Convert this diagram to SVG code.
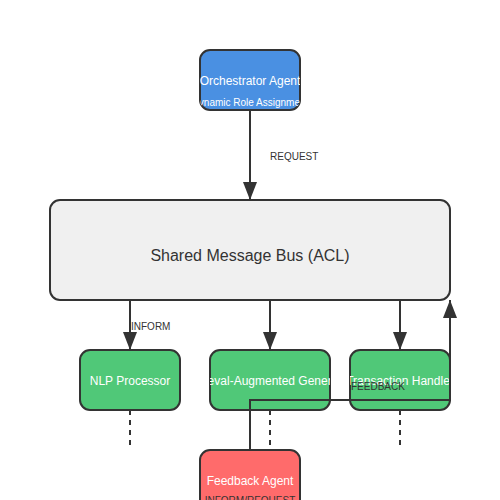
<svg xmlns="http://www.w3.org/2000/svg" width="500" height="500" viewBox="0 0 500 500">
<style>
.node{stroke:#333;stroke-width:2}
.t{font-family:"Liberation Sans",Arial,sans-serif;text-anchor:middle;dominant-baseline:central}
.w{fill:#fff;font-size:12px}
.s{fill:#fff;font-size:10px}
.lbl{font-family:"Liberation Sans",Arial,sans-serif;font-size:10px;fill:#333;dominant-baseline:central}
.ln{stroke:#333;stroke-width:2;fill:none}
.dash{stroke:#333;stroke-width:2;stroke-dasharray:5,5;fill:none}
</style>
<defs>
<marker id="arr" markerUnits="userSpaceOnUse" markerWidth="18" markerHeight="14" refX="18" refY="7" orient="auto">
<path d="M0,0 L18,7 L0,14 Z" fill="#333"/>
</marker>
<clipPath id="cOrch"><rect x="200" y="50" width="100" height="60" rx="10"/></clipPath>
<clipPath id="cNlp"><rect x="80" y="350" width="100" height="60" rx="10"/></clipPath>
<clipPath id="cRag"><rect x="210" y="350" width="120" height="60" rx="10"/></clipPath>
<clipPath id="cTx"><rect x="350" y="350" width="100" height="60" rx="10"/></clipPath>
<clipPath id="cFb"><rect x="200" y="450" width="100" height="60" rx="10"/></clipPath>
</defs>
<rect width="500" height="500" fill="#fff"/>
<g id="bus">
<rect class="node" x="50" y="200" width="400" height="100" rx="10" fill="#f0f0f0"/>
<text class="t" x="250" y="255" font-size="16" fill="#333">Shared Message Bus (ACL)</text>
</g>
<g id="orchestrator">
<rect class="node" x="200" y="50" width="100" height="60" rx="10" fill="#4a90e2"/>
<g clip-path="url(#cOrch)">
<text class="t w" x="250" y="81">Orchestrator Agent</text>
<text class="t s" x="250" y="102">Dynamic Role Assignment</text>
</g>
</g>
<g id="nlp">
<rect class="node" x="80" y="350" width="100" height="60" rx="10" fill="#50c878"/>
<text class="t w" x="130" y="381" clip-path="url(#cNlp)">NLP Processor</text>
</g>
<g id="rag">
<rect class="node" x="210" y="350" width="120" height="60" rx="10" fill="#50c878"/>
<text class="t w" x="270" y="381" clip-path="url(#cRag)">Retrieval-Augmented Generation</text>
</g>
<g id="transaction">
<rect class="node" x="350" y="350" width="100" height="60" rx="10" fill="#50c878"/>
<text class="t w" x="400" y="381" clip-path="url(#cTx)">Transaction Handler</text>
</g>
<g id="feedback">
<rect class="node" x="200" y="450" width="100" height="60" rx="10" fill="#ff6b6b"/>
<text class="t w" x="250" y="481" clip-path="url(#cFb)">Feedback Agent</text>
</g>
<g id="connectors">
<line class="ln" x1="250" y1="110" x2="250" y2="200" marker-end="url(#arr)"/>
<text class="lbl" x="270" y="156">REQUEST</text>
<line class="ln" x1="130" y1="300" x2="130" y2="350" marker-end="url(#arr)"/>
<text class="lbl" x="131" y="326">INFORM</text>
<line class="ln" x1="270" y1="300" x2="270" y2="350" marker-end="url(#arr)"/>
<line class="ln" x1="400" y1="300" x2="400" y2="350" marker-end="url(#arr)"/>
<line class="dash" x1="130" y1="410" x2="130" y2="445"/>
<line class="dash" x1="270" y1="410" x2="270" y2="445"/>
<line class="dash" x1="400" y1="410" x2="400" y2="445"/>
<path class="ln" d="M250,450 L250,400 L450,400 L450,300" marker-end="url(#arr)"/>
<text class="lbl" x="351" y="386">FEEDBACK</text>
<text class="t" x="250" y="500" font-size="10" fill="#333">INFORM/REQUEST</text>
</g>
</svg>
